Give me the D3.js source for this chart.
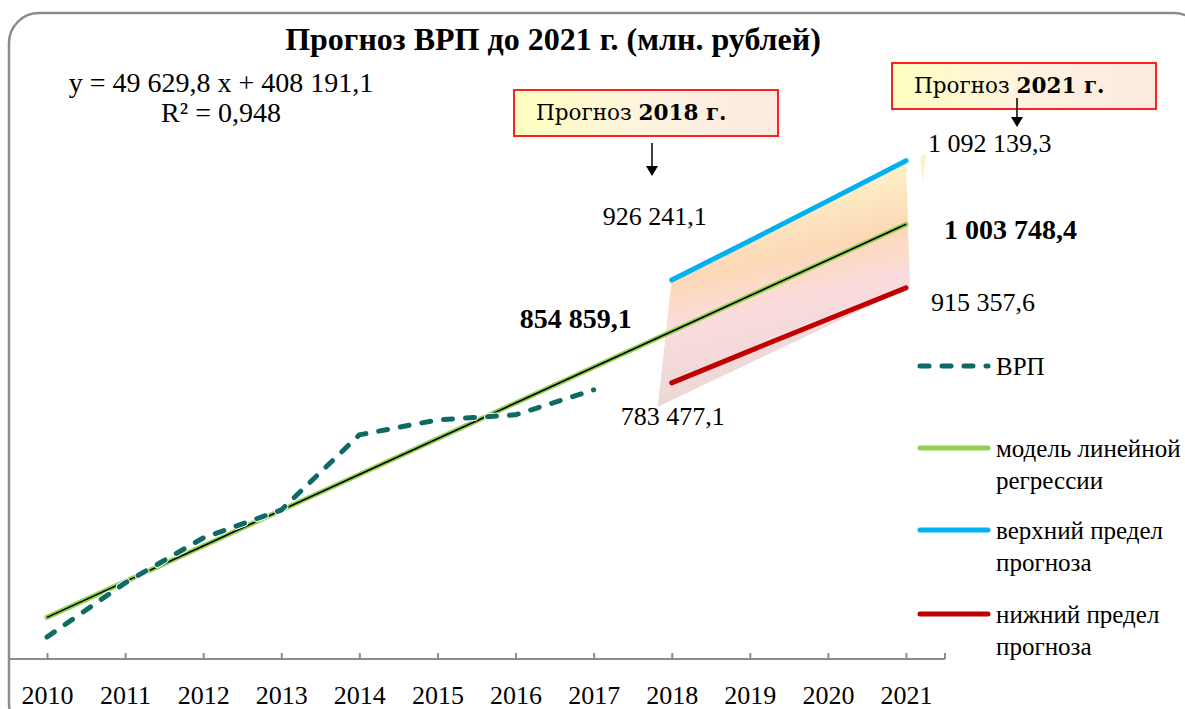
<!DOCTYPE html>
<html>
<head>
<meta charset="utf-8">
<script src="https://cdn.jsdelivr.net/npm/d3@7"></script>
<style>
  html, body { margin: 0; padding: 0; background: #fff; }
  svg text { font-family: "Liberation Serif", "Times New Roman", serif; fill: #000; }
</style>
</head>
<body>
<div class="chart"></div>
<script>
// data
var years = [2010, 2011, 2012, 2013, 2014, 2015, 2016, 2017, 2018, 2019, 2020, 2021]
var factYears = [2010, 2011, 2012, 2013, 2014, 2015, 2016, 2017]
var grp = [430600, 505600, 568100, 607000, 711300, 732100, 739100, 773800]
var forecastYears = [2018, 2019, 2020, 2021]
var upper = [926241.1, 981000, 1036300, 1092139.3]
var lower = [783477.1, 828000, 871900, 915357.6]
var slope = 49629.8, intercept = 408191.1, r2 = 0.948
var legendNames = ["ВРП", "модель линейной|регрессии", "верхний предел|прогноза", "нижний предел|прогноза"]

document.addEventListener("DOMContentLoaded", draw)

function draw() {
  var width = 1185, height = 709

  var svg = d3.select(".chart").append("svg")
    .attr("width", width)
    .attr("height", height)

  var x = d3.scaleLinear().domain([2010, 2021]).range([47, 906])
  var y = d3.scaleLinear().domain([400000, 1100000]).range([659, 155])

  var fmt = function (v) {
    return d3.format(",.1f")(v).replace(/,/g, " ").replace(".", ",")
  }
  var model = function (yr) { return slope * (yr - 2009) + intercept }

  // outer frame
  svg.append("rect")
    .attr("x", 9).attr("y", 13)
    .attr("width", 1195).attr("height", 720)
    .attr("rx", 30)
    .attr("fill", "none")
    .attr("stroke", "#8c8c8c")
    .attr("stroke-width", 2.5)

  var defs = svg.append("defs")
  var grad = defs.append("linearGradient")
    .attr("id", "band")
    .attr("x1", 0).attr("y1", 0).attr("x2", 0.25).attr("y2", 1)
  grad.append("stop").attr("offset", "0%").attr("stop-color", "#fffbe2")
  grad.append("stop").attr("offset", "30%").attr("stop-color", "#fdebc4")
  grad.append("stop").attr("offset", "48%").attr("stop-color", "#fcd8b6")
  grad.append("stop").attr("offset", "66%").attr("stop-color", "#fbdcdc")
  grad.append("stop").attr("offset", "100%").attr("stop-color", "#e8d6d6")

  var boxGrad = defs.append("linearGradient").attr("id", "box")
  boxGrad.append("stop").attr("offset", "0%").attr("stop-color", "#ffffbf")
  boxGrad.append("stop").attr("offset", "50%").attr("stop-color", "#fdf3df")
  boxGrad.append("stop").attr("offset", "100%").attr("stop-color", "#fce9e0")

  // forecast band (drawn with a small shadow-like skew at the bottom)
  var n = forecastYears.length - 1
  var bandPts = forecastYears.map(function (yr, i) { return [x(yr), y(upper[i])] })
  bandPts.push([x(forecastYears[n]) + 4, y(lower[n]) - 1])
  bandPts.push([x(forecastYears[0]) - 14, y(lower[0] - 33000)])
  svg.append("polygon")
    .attr("points", bandPts.map(function (p) { return p.join(",") }).join(" "))
    .attr("fill", "url(#band)")
  // small leftover sliver on the right
  svg.append("polygon")
    .attr("points", [[x(2021) + 14, y(upper[n]) - 4], [x(2021) + 20, y(upper[n]) - 7], [x(2021) + 17, y(upper[n]) + 22]].map(function (p) { return p.join(",") }).join(" "))
    .attr("fill", "#fdf2cc")

  // x axis
  svg.append("line")
    .attr("x1", 10).attr("x2", x(2021) + 39)
    .attr("y1", y(400000)).attr("y2", y(400000))
    .attr("stroke", "#8c8c8c").attr("stroke-width", 2)

  var axis = d3.axisBottom(x)
    .tickValues(years)
    .tickFormat(d3.format("d"))
    .tickSize(-6)
    .tickSizeOuter(0)
    .tickPadding(27)
  var ax = svg.append("g")
    .attr("transform", "translate(0," + y(400000) + ")")
    .call(axis)
  ax.select(".domain").remove()
  ax.selectAll(".tick line").attr("stroke", "#8c8c8c").attr("stroke-width", 2)
  ax.selectAll(".tick text")
    .style("font-family", '"Liberation Serif", serif')
    .attr("font-size", 26)
  svg.append("line")
    .attr("x1", x(2021) + 39).attr("x2", x(2021) + 39)
    .attr("y1", y(400000)).attr("y2", y(400000) - 6)
    .attr("stroke", "#8c8c8c").attr("stroke-width", 2)

  var line = d3.line()
    .x(function (d) { return x(d[0]) })
    .y(function (d) { return y(d[1]) })

  // regression model
  var modelPts = years.map(function (yr) { return [yr, model(yr)] })
  svg.append("path")
    .attr("d", line(modelPts))
    .attr("fill", "none").attr("stroke", "#92d050")
    .attr("stroke-width", 5).attr("stroke-linecap", "round")
  svg.append("path")
    .attr("d", line(modelPts))
    .attr("fill", "none").attr("stroke", "#000")
    .attr("stroke-width", 1.6)

  // upper and lower forecast bounds
  svg.append("path")
    .attr("d", line(forecastYears.map(function (yr, i) { return [yr, upper[i]] })))
    .attr("fill", "none").attr("stroke", "#00b0f0")
    .attr("stroke-width", 5).attr("stroke-linecap", "round")
  svg.append("path")
    .attr("d", line(forecastYears.map(function (yr, i) { return [yr, lower[i]] })))
    .attr("fill", "none").attr("stroke", "#c00000")
    .attr("stroke-width", 5).attr("stroke-linecap", "round")

  // actual GRP
  var factPts = factYears.map(function (yr, i) { return [yr, grp[i]] })
  svg.append("path")
    .attr("d", line(factPts))
    .attr("fill", "none").attr("stroke", "#fff")
    .attr("stroke-width", 7).attr("stroke-dasharray", "9,13")
    .attr("stroke-linecap", "round")
  svg.append("path")
    .attr("d", line(factPts))
    .attr("fill", "none").attr("stroke", "#0d6b64")
    .attr("stroke-width", 5).attr("stroke-dasharray", "9,13")
    .attr("stroke-linecap", "round")

  // title and equation
  svg.append("text")
    .attr("x", 553).attr("y", 50)
    .attr("text-anchor", "middle")
    .attr("font-size", 32).attr("font-weight", "bold")
    .text("Прогноз ВРП до 2021 г. (млн. рублей)")
  svg.append("text")
    .attr("x", 221).attr("y", 92)
    .attr("text-anchor", "middle").attr("font-size", 28)
    .text("y = " + fmt(slope) + " x + " + fmt(intercept))
  svg.append("text")
    .attr("x", 221).attr("y", 122)
    .attr("text-anchor", "middle").attr("font-size", 28)
    .text("R² = " + String(r2).replace(".", ","))

  // value labels
  function valueLabel(px, py, txt, bold) {
    svg.append("text")
      .attr("x", px).attr("y", py)
      .attr("dy", "0.35em")
      .attr("font-size", bold ? 28 : 26)
      .attr("font-weight", bold ? "bold" : "normal")
      .text(txt)
  }
  valueLabel(x(2018) - 69, 216, fmt(upper[0]))
  valueLabel(x(2018) - 152, 318, fmt(model(2018) - 0.2), true)
  valueLabel(x(2018) - 51, 416, fmt(lower[0]))
  valueLabel(x(2021) + 22, 143, fmt(upper[n]))
  valueLabel(x(2021) + 38, 229, fmt(model(2021) - 0.3), true)
  valueLabel(x(2021) + 25, 302, fmt(lower[n]))

  // callout boxes
  function callout(bx, by, yr, ax0, ay0, ay1) {
    svg.append("rect")
      .attr("x", bx).attr("y", by)
      .attr("width", 264).attr("height", 46)
      .attr("fill", "url(#box)")
      .attr("stroke", "#ff2020").attr("stroke-width", 2)
    var t = svg.append("text")
      .attr("x", bx + 22).attr("y", by + 30)
      .style("font-family", '"DejaVu Serif", serif')
      .attr("font-size", 21.5)
    t.append("tspan").text("Прогноз ")
    t.append("tspan").attr("font-weight", "bold").text(yr + " г.")
    svg.append("line")
      .attr("x1", ax0).attr("x2", ax0)
      .attr("y1", ay0).attr("y2", ay1 - 8)
      .attr("stroke", "#000").attr("stroke-width", 1.5)
    svg.append("path")
      .attr("d", "M" + (ax0 - 6) + "," + (ay1 - 10) + "L" + (ax0 + 6) + "," + (ay1 - 10) + "L" + ax0 + "," + ay1 + "Z")
      .attr("fill", "#000")
  }
  callout(514, 90, 2018, 652, 143, 176)
  callout(892, 63, 2021, 1017, 98, 127)

  // legend
  var lg = svg.append("g").attr("transform", "translate(918,0)")
  var legendRows = [366, 448, 530, 614]
  var legendStyles = [
    { color: "#0d6b64", dash: "9,13" },
    { color: "#92d050", dash: null },
    { color: "#00b0f0", dash: null },
    { color: "#c00000", dash: null }
  ]
  legendNames.forEach(function (name, i) {
    var row = lg.append("g").attr("transform", "translate(0," + legendRows[i] + ")")
    row.append("line")
      .attr("x1", 2).attr("x2", 70)
      .attr("stroke", legendStyles[i].color)
      .attr("stroke-width", 5)
      .attr("stroke-linecap", "round")
      .attr("stroke-dasharray", legendStyles[i].dash)
    name.split("|").forEach(function (part, j) {
      row.append("text")
        .attr("x", 78).attr("y", j * 32)
        .attr("dy", "0.35em")
        .attr("font-size", 25)
        .text(part)
    })
  })
}
</script>
</body>
</html>
